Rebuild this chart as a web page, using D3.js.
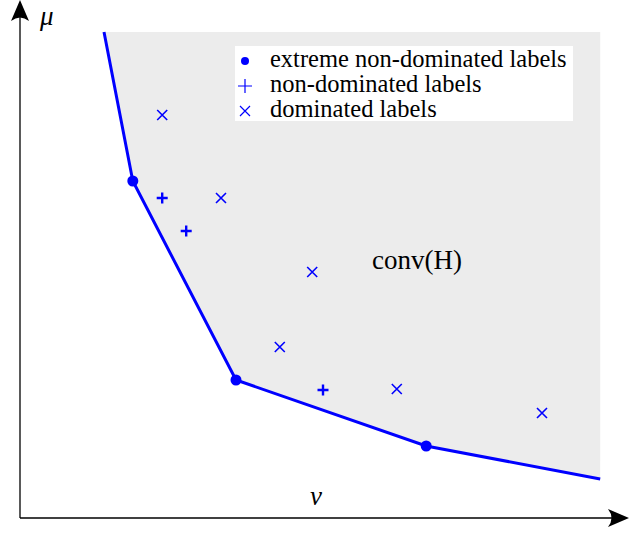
<!DOCTYPE html>
<html>
<head>
<meta charset="utf-8">
<script src="https://cdn.jsdelivr.net/npm/d3@7"></script>
<style>
  body { margin: 0; background: #fff; }
</style>
</head>
<body>
<svg id="chart" width="629" height="533"></svg>
<script>
// lower-left boundary of conv(H), in (nu, mu)
var hullNu = [14, 18.8, 36, 67.7, 96.7];
var hullMu = [97.2, 67.4, 27.6, 14.4, 7.8];
// extreme non-dominated labels
var extremeNu = [18.8, 36, 67.7];
var extremeMu = [67.4, 27.6, 14.4];
// non-dominated labels
var nondomNu = [23.7, 27.7, 50.5];
var nondomMu = [64, 57.4, 25.6];
// dominated labels
var domNu = [23.7, 33.5, 48.7, 43.3, 62.8, 87];
var domMu = [80.6, 64, 49.2, 34.2, 25.8, 21];
var legendLabels = ['extreme non-dominated labels', 'non-dominated labels', 'dominated labels'];

var blue = '#0000ff';
var serif = '"Liberation Serif", "Times New Roman", serif';
var svg = d3.select('#chart');

var x = d3.scaleLinear().domain([0, 100]).range([20, 620]);
var y = d3.scaleLinear().domain([0, 100]).range([518, 18]);

var hull = hullNu.map(function (d, i) { return [d, hullMu[i]]; });
var last = hull[hull.length - 1];
var first = hull[0];
var line = d3.line().x(function (d) { return x(d[0]); }).y(function (d) { return y(d[1]); });

// shaded region
svg.append('path')
  .attr('d', line(hull.concat([[last[0], first[1]]])) + 'Z')
  .attr('fill', '#ececec');

// axes with arrow heads
function arrowHead(tx, ty, angle) {
  svg.append('path')
    .attr('d', 'M0,0 L-21,-9 Q-14,0 -21,9 Z')
    .attr('transform', 'translate(' + tx + ',' + ty + ') rotate(' + angle + ')')
    .attr('fill', '#000');
}
svg.append('line').attr('x1', x(0)).attr('y1', y(0)).attr('x2', 622).attr('y2', y(0))
  .attr('stroke', '#000').attr('stroke-width', 1.3);
svg.append('line').attr('x1', x(0)).attr('y1', y(0)).attr('x2', x(0)).attr('y2', 8)
  .attr('stroke', '#000').attr('stroke-width', 1.3);
arrowHead(629, y(0), 0);
arrowHead(x(0), 0, -90);

svg.append('text').attr('x', 40).attr('y', 25)
  .attr('font-family', serif).attr('font-size', 27).attr('font-style', 'italic').text('\u03bc');
svg.append('text').attr('x', 310).attr('y', 505)
  .attr('font-family', serif).attr('font-size', 27).attr('font-style', 'italic').text('\u03bd');

// hull boundary
svg.append('path')
  .attr('d', line(hull))
  .attr('fill', 'none').attr('stroke', blue).attr('stroke-width', 3);

// markers
svg.selectAll('.extreme').data(extremeNu).enter().append('circle')
  .attr('cx', function (d) { return x(d); })
  .attr('cy', function (d, i) { return y(extremeMu[i]); })
  .attr('r', 5.5).attr('fill', blue);

function plus(g, cx, cy, s, w) {
  g.append('path')
    .attr('d', 'M' + (cx - s) + ',' + cy + 'H' + (cx + s) + 'M' + cx + ',' + (cy - s) + 'V' + (cy + s))
    .attr('stroke', blue).attr('stroke-width', w).attr('fill', 'none');
}
function cross(g, cx, cy, s, w) {
  g.append('path')
    .attr('d', 'M' + (cx - s) + ',' + (cy - s) + 'L' + (cx + s) + ',' + (cy + s) +
               'M' + (cx - s) + ',' + (cy + s) + 'L' + (cx + s) + ',' + (cy - s))
    .attr('stroke', blue).attr('stroke-width', w).attr('fill', 'none');
}
nondomNu.forEach(function (d, i) { plus(svg, x(d), y(nondomMu[i]), 5.5, 2.4); });
domNu.forEach(function (d, i) { cross(svg, x(d), y(domMu[i]), 5, 1.6); });

svg.append('text').attr('x', 372).attr('y', 269)
  .attr('font-family', serif).attr('font-size', 27).text('conv(H)');

// legend
var legend = svg.append('g').attr('transform', 'translate(235,46)');
legend.append('rect').attr('width', 338).attr('height', 75).attr('fill', '#fff');
legendLabels.forEach(function (lab, i) {
  var cy = 15 + i * 25;
  if (i === 0) legend.append('circle').attr('cx', 10).attr('cy', cy).attr('r', 4).attr('fill', blue);
  if (i === 1) plus(legend, 10, cy, 7, 1.2);
  if (i === 2) cross(legend, 10, cy, 5, 1.2);
  legend.append('text').attr('x', 35).attr('y', cy + 6)
    .attr('font-family', serif).attr('font-size', 24.5).text(lab);
});
</script>
</body>
</html>
